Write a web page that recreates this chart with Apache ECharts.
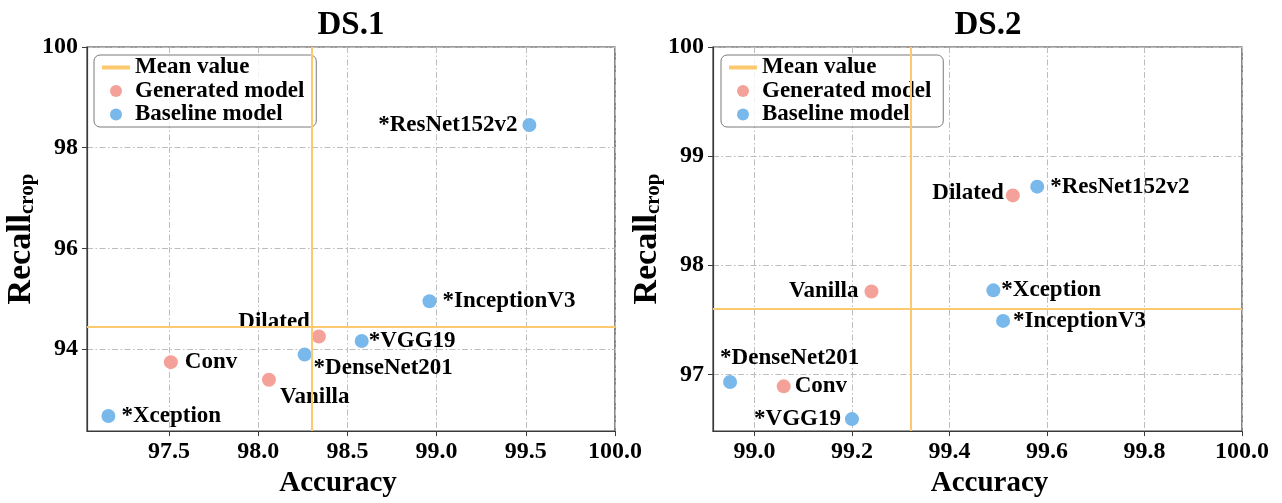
<!DOCTYPE html>
<html>
<head>
<meta charset="utf-8">
<script src="https://cdn.jsdelivr.net/npm/echarts@6/dist/echarts.min.js"></script>
<style>
html,body{margin:0;padding:0;background:#fff;}
#chart{width:1282px;height:503px;}
</style>
</head>
<body>
<div id="chart"></div>
<script>
// ---------------- data ----------------
const panelTitles = ['DS.1', 'DS.2'];
const generatedNames = ['Dilated', 'Conv', 'Vanilla'];
const baselineNames = ['*ResNet152v2', '*InceptionV3', '*VGG19', '*DenseNet201', '*Xception'];

const ds1GeneratedAcc = [98.34, 97.51, 98.06];
const ds1GeneratedRecall = [94.25, 93.74, 93.39];
const ds1BaselineAcc = [99.52, 98.96, 98.58, 98.26, 97.16];
const ds1BaselineRecall = [98.45, 94.95, 94.16, 93.89, 92.67];

const ds2GeneratedAcc = [99.53, 99.06, 99.24];
const ds2GeneratedRecall = [98.64, 96.89, 97.76];
const ds2BaselineAcc = [99.58, 99.51, 99.20, 98.95, 99.49];
const ds2BaselineRecall = [98.72, 97.49, 96.59, 96.93, 97.77];

const ds1XTicks = [97.5, 98.0, 98.5, 99.0, 99.5, 100.0];
const ds1YTicks = [94, 96, 98, 100];
const ds2XTicks = [99.0, 99.2, 99.4, 99.6, 99.8, 100.0];
const ds2YTicks = [97, 98, 99, 100];

const ds1XRange = [97.04, 100];
const ds1YRange = [92.37, 100];
const ds2XRange = [98.915, 100];
const ds2YRange = [96.48, 100];

const legendNames = ['Mean value', 'Generated model', 'Baseline model'];
const xAxisName = 'Accuracy';

// ---------------- styles ----------------
const FONT = '"Liberation Serif", "Times New Roman", serif';
const RED = '#f4a299';
const BLUE = '#79b8ea';
const ORANGE = '#fdc96f';
const FRAME = '#3a3a3a';

// label placement per point (style only)
const labelPlacement = [
  { // DS.1
    'Dilated': { position: 'left', distance: 2, offset: [0, -14] },
    'Conv': { position: 'right', distance: 7 },
    'Vanilla': { position: 'right', distance: 4, offset: [0, 17] },
    '*ResNet152v2': { position: 'left', distance: 5 },
    '*InceptionV3': { position: 'right', distance: 6 },
    '*VGG19': { position: 'right', distance: 0 },
    '*DenseNet201': { position: 'right', distance: 2, offset: [0, 13] },
    '*Xception': { position: 'right', distance: 6 }
  },
  { // DS.2
    'Dilated': { position: 'left', distance: 2, offset: [0, -2] },
    'Conv': { position: 'right', distance: 4 },
    'Vanilla': { position: 'left', distance: 6 },
    '*ResNet152v2': { position: 'right', distance: 6 },
    '*InceptionV3': { position: 'right', distance: 3 },
    '*VGG19': { position: 'left', distance: 4 },
    '*DenseNet201': { position: 'right', distance: 0, offset: [-17, -24] },
    '*Xception': { position: 'right', distance: 1 }
  }
];

const grids = [
  { left: 87, right: 667, top: 47, bottom: 62 },
  { left: 713, right: 40, top: 47, bottom: 62 }
];
const titleCenters = [351, 988];
const xNamePadding = [[0, 26, 0, 0], [0, 0, 0, 24]];

function mean(arrs) {
  let s = 0, n = 0;
  arrs.forEach(a => a.forEach(v => { s += v; n++; }));
  return s / n;
}

function points(names, acc, rec, panel) {
  return names.map((nm, i) => {
    const p = labelPlacement[panel][nm] || {};
    return {
      name: nm,
      value: [acc[i], rec[i]],
      label: Object.assign({ show: true }, p)
    };
  });
}

const labelStyle = {
  show: true,
  formatter: '{b}',
  fontFamily: FONT,
  fontWeight: 'bold',
  fontSize: 23,
  color: '#000'
};

function xAxis(idx, range, ticks) {
  return {
    type: 'value', gridIndex: idx, min: range[0], max: range[1],
    name: xAxisName, nameLocation: 'middle', nameGap: 30,
    nameTextStyle: { fontFamily: FONT, fontWeight: 'bold', fontSize: 29, color: '#000', padding: xNamePadding[idx] },
    axisLine: { show: true, onZero: false, lineStyle: { color: FRAME, width: 1.2 } },
    axisTick: { show: true, customValues: ticks, length: 5, lineStyle: { color: FRAME, width: 1 } },
    axisLabel: { customValues: ticks, margin: 9, formatter: v => Number(v).toFixed(1),
      fontFamily: FONT, fontWeight: 'bold', fontSize: 24, color: '#000' },
    splitLine: { show: true, lineStyle: { color: '#bdbdbd', width: 1, type: [6, 2.5, 1.5, 2.5] } }
  };
}
function yAxis(idx, range, ticks) {
  return {
    type: 'value', gridIndex: idx, min: range[0], max: range[1],
    name: '{a|Recall}{b|crop}', nameLocation: 'middle', nameGap: 42, nameRotate: 90,
    nameTextStyle: {
      rich: {
        a: { fontFamily: FONT, fontWeight: 'bold', fontSize: 34, lineHeight: 34, color: '#000', verticalAlign: 'bottom' },
        b: { fontFamily: FONT, fontWeight: 'bold', fontSize: 21, lineHeight: 17, color: '#000', verticalAlign: 'bottom' }
      }
    },
    axisLine: { show: true, onZero: false, lineStyle: { color: FRAME, width: 1.2 } },
    axisTick: { show: true, customValues: ticks, length: 5, lineStyle: { color: FRAME, width: 1 } },
    axisLabel: { customValues: ticks, margin: 9, formatter: v => String(Math.round(v)),
      fontFamily: FONT, fontWeight: 'bold', fontSize: 24, color: '#000' },
    splitLine: { show: true, lineStyle: { color: '#bdbdbd', width: 1, type: [6, 2.5, 1.5, 2.5] } }
  };
}

const panels = [
  { gAcc: ds1GeneratedAcc, gRec: ds1GeneratedRecall, bAcc: ds1BaselineAcc, bRec: ds1BaselineRecall },
  { gAcc: ds2GeneratedAcc, gRec: ds2GeneratedRecall, bAcc: ds2BaselineAcc, bRec: ds2BaselineRecall }
];

const series = [];
panels.forEach((p, i) => {
  const mx = mean([p.gAcc, p.bAcc]);
  const my = mean([p.gRec, p.bRec]);
  series.push({
    type: 'line', name: legendNames[0], xAxisIndex: i, yAxisIndex: i, data: [],
    symbol: 'none', showSymbol: false, z: 1, color: ORANGE, lineStyle: { color: ORANGE, width: 2 },
    markLine: {
      silent: true, symbol: ['none', 'none'], animation: false,
      label: { show: false },
      lineStyle: { color: ORANGE, width: 2, type: 'solid' },
      data: [{ xAxis: mx }, { yAxis: my }]
    }
  });
  series.push({
    type: 'scatter', name: legendNames[1], xAxisIndex: i, yAxisIndex: i, z: 3,
    symbolSize: 14, itemStyle: { color: RED, opacity: 1 },
    label: labelStyle,
    data: points(generatedNames, p.gAcc, p.gRec, i)
  });
  series.push({
    type: 'scatter', name: legendNames[2], xAxisIndex: i, yAxisIndex: i, z: 3,
    symbolSize: 14, itemStyle: { color: BLUE, opacity: 1 },
    label: labelStyle,
    data: points(baselineNames, p.bAcc, p.bRec, i)
  });
});

function legend(left) {
  return {
    left: left, top: 55, orient: 'vertical',
    data: [
      { name: legendNames[0], icon: 'path://M0,0 M0,4 L28,4 L28,8 L0,8 Z M28,12',
        itemStyle: { color: ORANGE, borderWidth: 0 } },
      { name: legendNames[1] },
      { name: legendNames[2] }
    ],
    itemWidth: 28, itemHeight: 12, itemGap: 0.5,
    padding: [1, 12, 1, 8],
    borderColor: '#7a7a7a', borderWidth: 1, borderRadius: 6,
    backgroundColor: 'rgba(255,255,255,0.8)',
    textStyle: { fontFamily: FONT, fontWeight: 'bold', fontSize: 23, lineHeight: 23, color: '#000' },
    selectedMode: false
  };
}

const chart = echarts.init(document.getElementById('chart'), null, { renderer: 'canvas' });
chart.setOption({
  animation: false,
  backgroundColor: '#fff',
  grid: grids.map(g => Object.assign({ show: true, borderColor: FRAME, borderWidth: 1.2, containLabel: false }, g)),
  xAxis: [xAxis(0, ds1XRange, ds1XTicks), xAxis(1, ds2XRange, ds2XTicks)],
  yAxis: [yAxis(0, ds1YRange, ds1YTicks), yAxis(1, ds2YRange, ds2YTicks)],
  legend: [legend(94), legend(721)],
  graphic: panelTitles.map((t, i) => ({
    type: 'text', x: titleCenters[i], y: 25.5,
    style: { text: t, align: 'center', verticalAlign: 'middle', font: 'bold 33px ' + FONT, fill: '#000' }
  })),
  series: series
});
</script>
</body>
</html>
